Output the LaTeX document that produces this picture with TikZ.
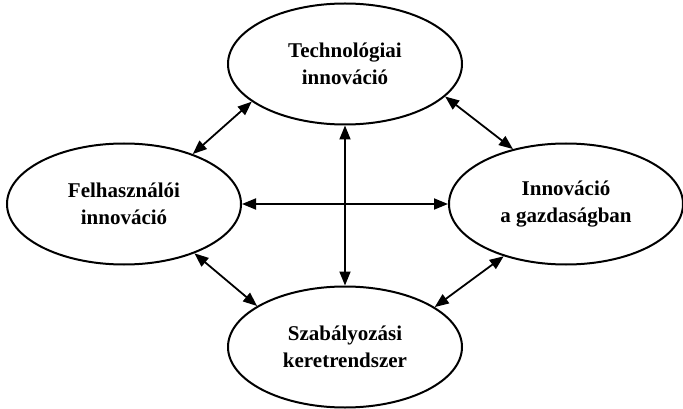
\documentclass[tikz,border=0pt]{standalone}
\usepackage{fontspec}
\setmainfont{Liberation Serif}
\usetikzlibrary{shapes.geometric,arrows.meta}
\begin{document}
\begin{tikzpicture}[x=1pt,y=-1pt,
  topic/.style={ellipse,draw,line width=2pt,minimum width=234pt,minimum height=121pt,
    inner sep=0pt,align=center,font=\bfseries\fontsize{21}{27}\selectfont},
  link/.style={line width=1.8pt,{Triangle[length=14pt,width=11pt]}-{Triangle[length=14pt,width=11pt]}}]
  \useasboundingbox (0,0) rectangle (683,409);
  \node[topic] (tech) at (345,64)  {Technológiai\\innováció};
  \node[topic] (user) at (124,204) {Felhasználói\\innováció};
  \node[topic] (econ) at (566,204) {Innováció\\a gazdaságban};
  \node[topic] (reg)  at (345,347) {Szabályozási\\keretrendszer};
  \draw[link] (user.east) -- (econ.west);
  \draw[link] (tech.south) -- (reg.north);
  \draw[link] (user.36) -- (tech.202);
  \draw[link] (tech.-18) -- (econ.134);
  \draw[link] (user.-35) -- (reg.155);
  \draw[link] (econ.220) -- (reg.24);
\end{tikzpicture}
\end{document}
